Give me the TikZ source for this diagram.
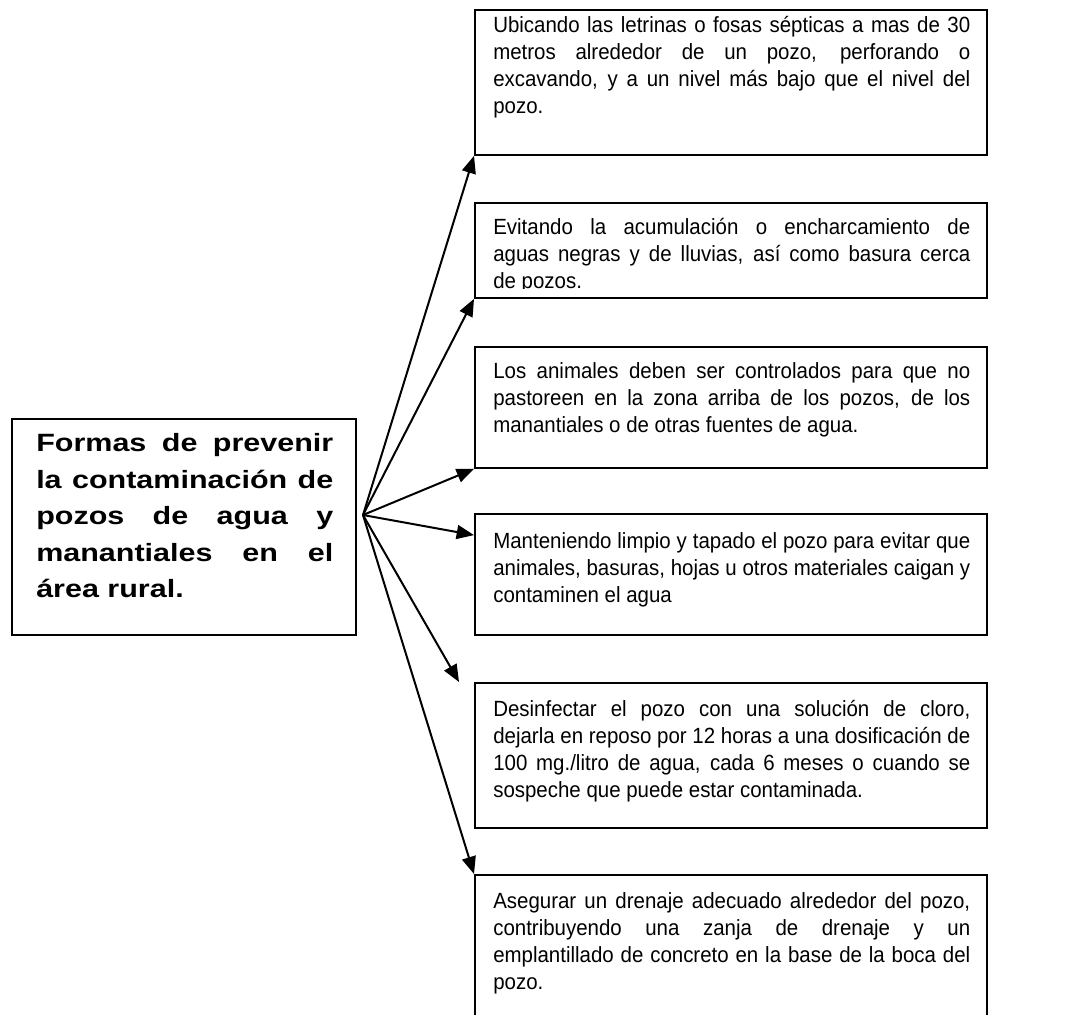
\documentclass[tikz,border=0pt]{standalone}
\usepackage{fontspec}
\setmainfont{Liberation Sans}
\newfontfamily\titlefont{Liberation Sans}[FakeStretch=1.22]
\newfontfamily\bodyfont{Liberation Sans}[FakeStretch=0.93]
\usetikzlibrary{arrows.meta,calc}
\begin{document}
\begin{tikzpicture}[x=0.75pt,y=-0.75pt,
  box/.style={draw=black,line width=1.4pt,inner sep=0pt,anchor=north west,minimum width=384pt},
  txt/.style={anchor=base west,inner sep=0pt,text width=357.75pt,align=justify,
    font=\bodyfont\fontsize{16.5pt}{20.4pt}\selectfont},
  ttl/.style={anchor=base west,inner sep=0pt,text width=222.75pt,align=justify,
    font=\titlefont\bfseries\fontsize{18.75pt}{27.4pt}\selectfont},
  arr/.style={line width=1.5pt,-{Triangle[length=13pt,width=10.5pt]}}]
\clip (0,0) rectangle (1081,1014);
\fill[white] (0,0) rectangle (1081,1014);
% left box
\node[box,minimum width=258pt,minimum height=162pt] (main) at (11,418) {};
\node[ttl] (maint) at (36,451.5) {Formas de prevenir\linebreak la contaminación de\linebreak pozos de agua y\linebreak manantiales en el\linebreak área rural.};
% right boxes
\node[box,minimum height=108.75pt] (b1) at (474,9) {};
\node[box,minimum height=71.25pt] (b2) at (474,202) {};
\node[box,minimum height=90.75pt] (b3) at (474,346) {};
\node[box,minimum height=90.75pt] (b4) at (474,513) {};
\node[box,minimum height=108.75pt] (b5) at (474,682) {};
\node[box,minimum height=125pt] (b6) at (474,874) {};
\node[txt] (t1) at (493,32) {Ubicando las letrinas o fosas sépticas a mas de 30\linebreak metros alrededor de un pozo, perforando o\linebreak excavando, y a un nivel más bajo que el nivel del\linebreak pozo.};
\begin{scope}
\clip (474,202) rectangle (986,288);
\node[txt] (t2) at (493,234) {Evitando la acumulación o encharcamiento de\linebreak aguas negras y de lluvias, así como basura cerca\linebreak de pozos.};
\end{scope}
\node[txt] (t3) at (493,378) {Los animales deben ser controlados para que no\linebreak pastoreen en la zona arriba de los pozos, de los\linebreak manantiales o de otras fuentes de agua.};
\node[txt] (t4) at (493,548) {Manteniendo limpio y tapado el pozo para evitar que\linebreak animales, basuras, hojas u otros materiales caigan y\linebreak contaminen el agua};
\node[txt] (t5) at (493,716) {Desinfectar el pozo con una solución de cloro,\linebreak dejarla en reposo por 12 horas a una dosificación de\linebreak 100 mg./litro de agua, cada 6 meses o cuando se\linebreak sospeche que puede estar contaminada.};
\node[txt] (t6) at (493,908) {Asegurar un drenaje adecuado alrededor del pozo,\linebreak contribuyendo una zanja de drenaje y un\linebreak emplantillado de concreto en la base de la boca del\linebreak pozo.};
% connectors
\coordinate (hub) at (363,515);
\draw[arr] (hub) -- (b1.south west);
\draw[arr] (hub) -- (b2.south west);
\draw[arr] (hub) -- (b3.south west);
\draw[arr] (hub) -- ($(b4.north west)!0.18!(b4.south west)$);
\draw[arr] (hub) -- ($(b5.north west)+(-15,0)$);
\draw[arr] (hub) -- (b6.north west);
\end{tikzpicture}
\end{document}
